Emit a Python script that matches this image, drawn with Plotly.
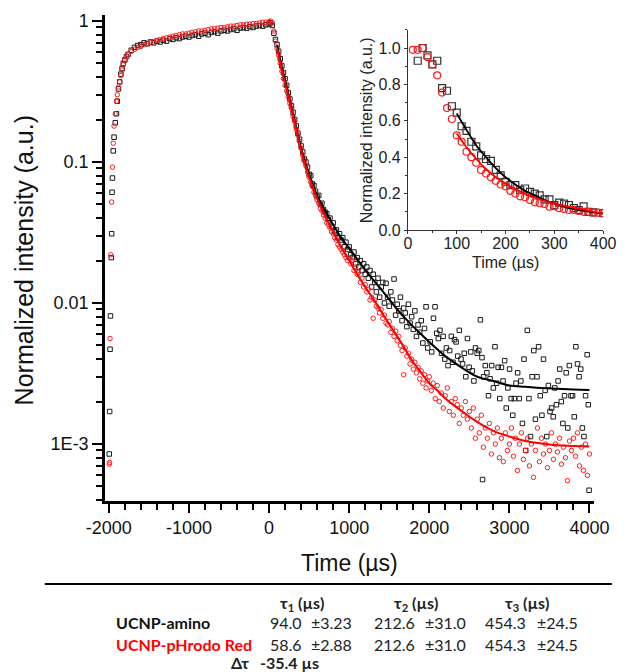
import plotly.graph_objects as go

# ---------------- main panel data (time in µs, normalized intensity) ----------------
amino_rise_t = [-1995, -1990, -1985, -1980, -1970, -1965, -1960, -1955, -1945, -1935,
                -1920, -1905, -1895, -1880, -1865, -1850, -1835, -1820, -1800, -1780]
amino_rise_v = [0.00085, 0.0017, 0.0047, 0.0081, 0.021, 0.031, 0.061, 0.077, 0.12, 0.15,
                0.19, 0.22, 0.27, 0.33, 0.37, 0.42, 0.46, 0.50, 0.53, 0.56]

red_rise_t = [-1995, -1990, -1985, -1975, -1965, -1955, -1945, -1935, -1920, -1905,
              -1895, -1880, -1865, -1850, -1835, -1820, -1800, -1780]
red_rise_v = [0.00072, 0.00074, 0.0056, 0.022, 0.052, 0.092, 0.136, 0.18, 0.22, 0.27,
              0.30, 0.34, 0.37, 0.41, 0.45, 0.49, 0.53, 0.56]

plateau_t = [-1760, -1720, -1680, -1640, -1600, -1560, -1520, -1480, -1440, -1400,
             -1360, -1320, -1280, -1240, -1200, -1160, -1120, -1080, -1040, -1000,
             -960, -920, -880, -840, -800, -760, -720, -680, -640, -600,
             -560, -520, -480, -440, -400, -360, -320, -280, -240, -200,
             -160, -120, -80, -40, 0, 20]
amino_plateau_v = [0.58, 0.62, 0.65, 0.67, 0.68, 0.70, 0.69, 0.71, 0.70, 0.72,
                   0.71, 0.73, 0.72, 0.75, 0.74, 0.76, 0.75, 0.77, 0.78, 0.77,
                   0.79, 0.80, 0.78, 0.81, 0.82, 0.80, 0.83, 0.84, 0.82, 0.85,
                   0.86, 0.85, 0.87, 0.88, 0.86, 0.89, 0.90, 0.89, 0.91, 0.90,
                   0.92, 0.93, 0.92, 0.94, 0.95, 0.97]
red_plateau_v = [0.58, 0.61, 0.63, 0.65, 0.66, 0.68, 0.69, 0.70, 0.71, 0.73,
                 0.74, 0.75, 0.76, 0.77, 0.78, 0.79, 0.80, 0.81, 0.81, 0.82,
                 0.83, 0.84, 0.85, 0.85, 0.86, 0.87, 0.88, 0.88, 0.89, 0.90,
                 0.90, 0.91, 0.92, 0.92, 0.93, 0.94, 0.94, 0.95, 0.95, 0.96,
                 0.96, 0.97, 0.98, 0.98, 0.99, 1.00]

decay_t = [40, 60, 80, 100, 120, 140, 160, 180, 200, 220,
           240, 260, 280, 300, 320, 340, 360, 380, 400, 420,
           440, 460, 480, 500, 520, 540, 560, 580, 600, 620,
           640, 660, 680, 700, 720, 740, 760, 780, 800, 820,
           840, 860, 880, 900, 920, 940, 960, 980]
amino_decay_v = [0.93, 0.82, 0.74, 0.68, 0.61, 0.54, 0.48, 0.43, 0.39, 0.35,
                 0.31, 0.28, 0.25, 0.225, 0.20, 0.18, 0.16, 0.145, 0.13, 0.118,
                 0.105, 0.10, 0.092, 0.082, 0.080, 0.070, 0.068, 0.062, 0.057, 0.058,
                 0.050, 0.051, 0.046, 0.044, 0.043, 0.039, 0.040, 0.035, 0.037, 0.032,
                 0.033, 0.029, 0.031, 0.028, 0.029, 0.025, 0.027, 0.024]
red_decay_v = [0.97, 0.85, 0.72, 0.64, 0.57, 0.50, 0.44, 0.39, 0.35, 0.32,
               0.29, 0.26, 0.24, 0.21, 0.195, 0.17, 0.155, 0.14, 0.125, 0.112,
               0.102, 0.094, 0.085, 0.078, 0.072, 0.067, 0.061, 0.058, 0.054, 0.051,
               0.047, 0.045, 0.042, 0.040, 0.037, 0.036, 0.034, 0.032, 0.031, 0.029,
               0.028, 0.026, 0.025, 0.024, 0.023, 0.022, 0.021, 0.020]

mid_t = [1000, 1020, 1040, 1060, 1080, 1100, 1120, 1140, 1160, 1180,
         1200, 1220, 1240, 1260, 1280, 1300, 1320, 1340, 1360, 1380,
         1400, 1420, 1440, 1460, 1480, 1500, 1520, 1540, 1560, 1580,
         1600, 1620, 1640, 1660, 1680, 1700, 1720, 1740, 1760, 1780,
         1800, 1820, 1840, 1860, 1880, 1900, 1920, 1940, 1960, 1980]
amino_mid_v = [0.025, 0.022, 0.021, 0.023, 0.019, 0.021, 0.018, 0.020, 0.017, 0.019,
               0.016, 0.018, 0.015, 0.017, 0.013, 0.016, 0.014, 0.012, 0.015, 0.011,
               0.013, 0.014, 0.010, 0.0138, 0.011, 0.0095, 0.012, 0.0105, 0.0148, 0.0082,
               0.0098, 0.0088, 0.0110, 0.0075, 0.0092, 0.0085, 0.0068, 0.0098, 0.0072, 0.0080,
               0.0065, 0.0088, 0.0058, 0.0070, 0.0062, 0.0075, 0.0052, 0.0066, 0.0094, 0.0048]
red_mid_v = [0.021, 0.019, 0.020, 0.017, 0.018, 0.016, 0.0165, 0.014, 0.015, 0.013,
             0.0135, 0.012, 0.0125, 0.0105, 0.011, 0.0078, 0.0105, 0.0095, 0.0092, 0.0085,
             0.0090, 0.0078, 0.0082, 0.0072, 0.0070, 0.0074, 0.0062, 0.0066, 0.0058, 0.0063,
             0.0054, 0.0058, 0.0050, 0.0046, 0.0031, 0.0048, 0.0042, 0.0044, 0.0037, 0.0040,
             0.0034, 0.0038, 0.0032, 0.0035, 0.0029, 0.0033, 0.0027, 0.0031, 0.0025, 0.0028]

amino_tail_t = [2012, 2030, 2052, 2072, 2093, 2113, 2133, 2153, 2173, 2194,
                2214, 2234, 2254, 2275, 2295, 2315, 2335, 2355, 2375, 2396,
                2416, 2436, 2456, 2476, 2497, 2517, 2537, 2557, 2577, 2598,
                2618, 2638, 2658, 2665, 2679, 2699, 2719, 2739, 2759, 2779,
                2800, 2820, 2840, 2860, 2880, 2901, 2921, 2941, 2961, 2981,
                3002, 3022, 3042, 3062, 3083, 3103, 3123, 3143, 3163, 3183,
                3204, 3224, 3244, 3264, 3284, 3305, 3325, 3345, 3365, 3385,
                3406, 3426, 3446, 3466, 3487, 3507, 3527, 3547, 3567, 3587,
                3608, 3628, 3648, 3668, 3688, 3709, 3729, 3749, 3769, 3789,
                3810, 3830, 3850, 3870, 3891, 3911, 3931, 3951, 3971, 3985, 3995]
amino_tail_v = [0.0053, 0.0045, 0.0078, 0.0094, 0.0061, 0.0056, 0.0064, 0.0044, 0.0058, 0.0040,
                0.0048, 0.0036, 0.0046, 0.0058, 0.0038, 0.0055, 0.0053, 0.0042, 0.0064, 0.0040,
                0.0037, 0.0044, 0.0030, 0.0056, 0.0035, 0.0045, 0.0033, 0.0028, 0.0048, 0.0044,
                0.0046, 0.0076, 0.0041, 0.00056, 0.0030, 0.0036, 0.0032, 0.0022, 0.0029, 0.0036,
                0.0025, 0.0049, 0.0027, 0.0035, 0.0021, 0.0035, 0.0028, 0.0039, 0.0018, 0.0025,
                0.0034, 0.0021, 0.0016, 0.0021, 0.0027, 0.0032, 0.0021, 0.0028, 0.0014, 0.0040,
                0.0009, 0.0064, 0.0021, 0.00113, 0.0030, 0.0046, 0.0015, 0.0030, 0.0049, 0.0022,
                0.0016, 0.0040, 0.0024, 0.00113, 0.0026, 0.0017, 0.0018, 0.00156, 0.0025, 0.0019,
                0.0028, 0.0034, 0.0020, 0.0014, 0.0022, 0.0032, 0.0013, 0.0036, 0.0022, 0.0022,
                0.00156, 0.0049, 0.0037, 0.0030, 0.0034, 0.0013, 0.00113, 0.0022, 0.0043, 0.0019, 0.00047]

red_tail_t = [2000, 2025, 2050, 2075, 2100, 2125, 2150, 2175, 2200, 2225,
              2250, 2275, 2300, 2325, 2350, 2375, 2400, 2425, 2450, 2475,
              2500, 2525, 2550, 2575, 2600, 2625, 2650, 2675, 2700, 2725,
              2750, 2775, 2800, 2825, 2850, 2875, 2900, 2925, 2950, 2975,
              3000, 3025, 3050, 3075, 3100, 3125, 3150, 3175, 3200, 3225,
              3250, 3275, 3300, 3325, 3350, 3375, 3400, 3425, 3450, 3475,
              3500, 3525, 3550, 3575, 3600, 3625, 3650, 3675, 3700, 3725,
              3750, 3775, 3800, 3825, 3850, 3875, 3900, 3925, 3950, 3975, 4000]
red_tail_v = [0.0030, 0.0024, 0.0027, 0.0021, 0.0026, 0.0020, 0.0023, 0.0018, 0.0022, 0.0025,
              0.0017, 0.0020, 0.0016, 0.0021, 0.0019, 0.0014, 0.0018, 0.0016, 0.0020, 0.0015,
              0.0017, 0.0013, 0.0018, 0.0011, 0.0015, 0.0012, 0.0016, 0.00095, 0.0013, 0.0011,
              0.0014, 0.00085, 0.0012, 0.0010, 0.0013, 0.00080, 0.0011, 0.00075, 0.0012, 0.0009,
              0.0010, 0.0013, 0.00082, 0.0011, 0.00065, 0.0010, 0.0012, 0.00078, 0.0009, 0.0011,
              0.0007, 0.0010, 0.00058, 0.0009, 0.0013, 0.00075, 0.0011, 0.00085, 0.0010, 0.00068,
              0.0009, 0.0012, 0.00078, 0.0010, 0.00088, 0.0011, 0.00072, 0.00095, 0.0008, 0.00055,
              0.00105, 0.0009, 0.0011, 0.00082, 0.0012, 0.0007, 0.00095, 0.00065, 0.0010, 0.0006, 0.00085]

fit_t = [100, 150, 200, 250, 300, 350, 400, 450, 500, 600,
         700, 800, 900, 1000, 1100, 1200, 1300, 1400, 1500, 1600,
         1700, 1800, 1900, 2000, 2100, 2200, 2400, 2600, 2800, 3000,
         3200, 3400, 3600, 3800, 4000]
amino_fit_v = [0.68, 0.50, 0.38, 0.29, 0.22, 0.165, 0.125, 0.100, 0.082, 0.058,
               0.045, 0.036, 0.029, 0.0245, 0.0205, 0.0172, 0.0146, 0.0125, 0.0106, 0.0090,
               0.0078, 0.0068, 0.0060, 0.0053, 0.0047, 0.0042, 0.0035, 0.0030, 0.0028, 0.0026,
               0.00255, 0.0025, 0.00247, 0.00244, 0.00242]
red_fit_v = [0.64, 0.47, 0.36, 0.28, 0.21, 0.16, 0.12, 0.096, 0.078, 0.055,
             0.041, 0.032, 0.025, 0.020, 0.016, 0.0130, 0.0107, 0.0087, 0.0071, 0.0058,
             0.0047, 0.0038, 0.0032, 0.0027, 0.0024, 0.0021, 0.00172, 0.00143, 0.00124, 0.00113,
             0.00105, 0.00101, 0.00098, 0.00097, 0.00096]

# ---------------- inset data (linear scale, 0-400 µs) ----------------
inset_amino_t = [20, 30, 40, 50, 60, 70, 80, 90, 100, 110, 120, 130, 140, 150, 160, 170, 180, 190,
                 200, 210, 220, 230, 240, 250, 260, 270, 280, 290, 300, 310, 320, 330, 340, 350,
                 360, 370, 380, 400]
inset_amino_v = [0.93, 1.0, 0.96, 0.91, 0.93, 0.78, 0.765, 0.68, 0.645, 0.57, 0.545, 0.485, 0.46,
                 0.41, 0.39, 0.38, 0.33, 0.30, 0.265, 0.247, 0.247, 0.22, 0.228, 0.21, 0.20, 0.19,
                 0.168, 0.168, 0.137, 0.15, 0.145, 0.137, 0.12, 0.11, 0.13, 0.10, 0.097, 0.093]
inset_red_t = [10, 20, 30, 40, 50, 60, 70, 80, 90, 100, 110, 120, 130, 140, 150, 160, 170, 180,
               190, 200, 210, 220, 230, 240, 250, 260, 270, 280, 290, 300, 310, 320, 330, 340,
               350, 360, 370, 380, 390, 400]
inset_red_v = [0.99, 0.99, 1.0, 0.95, 0.91, 0.85, 0.755, 0.67, 0.61, 0.52, 0.485, 0.43, 0.40,
               0.37, 0.33, 0.31, 0.29, 0.27, 0.25, 0.24, 0.215, 0.20, 0.185, 0.18, 0.165, 0.152,
               0.147, 0.143, 0.128, 0.13, 0.12, 0.116, 0.11, 0.11, 0.105, 0.10, 0.10, 0.095,
               0.095, 0.092]
inset_fit_t = [100, 120, 140, 160, 180, 200, 220, 240, 260, 280, 300, 320, 340, 360, 380, 400]
inset_amino_fit = [0.64, 0.55, 0.465, 0.40, 0.34, 0.29, 0.25, 0.215, 0.19, 0.165, 0.145, 0.13,
                   0.115, 0.105, 0.097, 0.09]
inset_red_fit = [0.53, 0.455, 0.39, 0.335, 0.29, 0.255, 0.225, 0.20, 0.18, 0.16, 0.145, 0.132,
                 0.122, 0.112, 0.10, 0.092]

# ---------------- table ----------------
row_labels = ["UCNP-amino", "UCNP-pHrodo Red"]
row_colors = ["#111111", "#ff0000"]
tau_headers = ["τ<sub>1</sub> (µs)", "τ<sub>2</sub> (µs)", "τ<sub>3</sub> (µs)"]
tau_values = [["94.0", "±3.23", "212.6", "±31.0", "454.3", "±24.5"],
              ["58.6", "±2.88", "212.6", "±31.0", "454.3", "±24.5"]]
delta_label = "Δτ"
delta_value = "-35.4 µs"

main_x_ticks = [-2000, -1000, 0, 1000, 2000, 3000, 4000]
main_x_ticktext = ["-2000", "-1000", "0", "1000", "2000", "3000", "4000"]
main_y_ticks = [0.001, 0.01, 0.1, 1]
main_y_ticktext = ["1E-3", "0.01", "0.1", "1"]
inset_x_ticks = [0, 100, 200, 300, 400]
inset_y_ticks = [0.0, 0.2, 0.4, 0.6, 0.8, 1.0]
inset_y_ticktext = ["0.0", "0.2", "0.4", "0.6", "0.8", "1.0"]

# ---------------- geometry helpers ----------------
W, H = 632, 672
ML, MR, MT, MB = 105, 10, 15, 171
PW, PH = W - ML - MR, H - MT - MB


def px(xp):
    return (xp - ML) / PW


def py(yp):
    return (MT + PH - yp) / PH


BLACK = "#1a1a1a"
RED = "#ff1a1a"
AX_FONT = "Liberation Sans, Arial, sans-serif"
TAB_FONT = "Lato, Open Sans, sans-serif"

fig = go.Figure()

amino_t = amino_rise_t + plateau_t + decay_t + mid_t + amino_tail_t
amino_v = amino_rise_v + amino_plateau_v + amino_decay_v + amino_mid_v + amino_tail_v
red_t = red_rise_t + plateau_t + decay_t + mid_t + red_tail_t
red_v = red_rise_v + red_plateau_v + red_decay_v + red_mid_v + red_tail_v

fig.add_trace(go.Scatter(x=amino_t, y=amino_v, mode="markers", xaxis="x", yaxis="y",
                         marker=dict(symbol="square-open", size=4.5, color=BLACK,
                                     line=dict(width=1, color=BLACK))))
fig.add_trace(go.Scatter(x=red_t, y=red_v, mode="markers", xaxis="x", yaxis="y",
                         marker=dict(symbol="circle-open", size=4.5, color=RED,
                                     line=dict(width=1, color=RED))))
fig.add_trace(go.Scatter(x=fit_t, y=amino_fit_v, mode="lines", xaxis="x", yaxis="y",
                         line=dict(color="black", width=2, shape="spline")))
fig.add_trace(go.Scatter(x=fit_t, y=red_fit_v, mode="lines", xaxis="x", yaxis="y",
                         line=dict(color="#ff0000", width=2, shape="spline")))

# inset
fig.add_trace(go.Scatter(x=inset_amino_t, y=inset_amino_v, mode="markers", xaxis="x2", yaxis="y2",
                         marker=dict(symbol="square-open", size=7, color="#333333",
                                     line=dict(width=1.2, color="#333333"))))
fig.add_trace(go.Scatter(x=inset_red_t, y=inset_red_v, mode="markers", xaxis="x2", yaxis="y2",
                         marker=dict(symbol="circle-open", size=7, color=RED,
                                     line=dict(width=1.2, color=RED))))
fig.add_trace(go.Scatter(x=inset_fit_t, y=inset_amino_fit, mode="lines", xaxis="x2", yaxis="y2",
                         line=dict(color="black", width=1.8, shape="spline")))
fig.add_trace(go.Scatter(x=inset_fit_t, y=inset_red_fit, mode="lines", xaxis="x2", yaxis="y2",
                         line=dict(color="#ff0000", width=1.8, shape="spline")))

minor_log = [m * 10.0 ** e for e in range(-4, 1) for m in range(2, 10)]

fig.update_layout(
    width=W, height=H,
    margin=dict(l=ML, r=MR, t=MT, b=MB, pad=0),
    paper_bgcolor="white", plot_bgcolor="rgba(0,0,0,0)",
    showlegend=False,
    xaxis=dict(domain=[0, (609 - ML) / PW], range=[-2048, 4061],
               tickmode="array", tickvals=main_x_ticks, ticktext=main_x_ticktext,
               ticks="outside", ticklen=9, tickwidth=2, tickcolor="black",
               showline=True, linewidth=2.5, linecolor="black",
               showgrid=False, zeroline=False,
               tickfont=dict(family=AX_FONT, size=18, color="#111"),
               minor=dict(tickmode="linear", tick0=0, dtick=200, ticks="outside",
                          ticklen=6, tickwidth=1.5, tickcolor="black", showgrid=False)),
    yaxis=dict(type="log", range=[-3.404, 0.0426], anchor="x",
               tickmode="array", tickvals=main_y_ticks, ticktext=main_y_ticktext,
               ticks="outside", ticklen=10, tickwidth=2, tickcolor="black",
               showline=True, linewidth=2.5, linecolor="black",
               showgrid=False, zeroline=False,
               tickfont=dict(family=AX_FONT, size=18, color="#111"),
               minor=dict(tickmode="array", tickvals=minor_log, ticks="outside",
                          ticklen=6, tickwidth=1.5, tickcolor="black", showgrid=False)),
    xaxis2=dict(domain=[px(417), px(618)], anchor="y2", range=[0, 400],
                tickmode="array", tickvals=inset_x_ticks,
                ticks="outside", ticklen=3, tickwidth=1, tickcolor="#333",
                ticklabelstandoff=-4,
                showline=True, linewidth=1, linecolor="#333",
                showgrid=False, zeroline=False,
                tickfont=dict(family=AX_FONT, size=16, color="#222"),
                minor=dict(tickmode="linear", tick0=0, dtick=50, ticks="outside",
                           ticklen=2, tickwidth=1, tickcolor="#333", showgrid=False)),
    yaxis2=dict(domain=[py(230), py(29.8)], anchor="x2", range=[0, 1.1],
                tickmode="array", tickvals=inset_y_ticks, ticktext=inset_y_ticktext,
                ticks="outside", ticklen=3, tickwidth=1, tickcolor="#333",
                showline=True, linewidth=1, linecolor="#333",
                showgrid=False, zeroline=False,
                tickfont=dict(family=AX_FONT, size=16, color="#222"),
                minor=dict(tickmode="linear", tick0=0, dtick=0.1, ticks="outside",
                           ticklen=2, tickwidth=1, tickcolor="#333", showgrid=False)),
)

ann = []


def add_text(text, xp, yp, size, family, color="#111", xanchor="center", angle=0):
    ann.append(dict(text=text, x=px(xp), y=py(yp), xref="paper", yref="paper",
                    xanchor=xanchor, yanchor="middle", showarrow=False, textangle=angle,
                    font=dict(family=family, size=size, color=color)))


# axis titles
add_text("Normalized intensity (a.u.)", 22, 260, 25, AX_FONT, angle=-90)
add_text("Time (µs)", 357, 563, 23, AX_FONT)
add_text("Normalized intensity (a.u.)", 374, 130, 16, AX_FONT, color="#222", angle=-90)
add_text("Time (µs)", 517, 262, 16, AX_FONT, color="#222")

# table
header_x = [308, 425, 540]
for h, xh in zip(tau_headers, header_x):
    add_text("<b>" + h + "</b>", xh, 603, 16, TAB_FONT, color="#222")
row_y = [622, 644]
value_x = [273, 315, 380, 432, 494, 548]
for lab, col, vals, yr in zip(row_labels, row_colors, tau_values, row_y):
    add_text("<b>" + lab + "</b>", 114, yr, 16, TAB_FONT, color=col, xanchor="left")
    for v, xv in zip(vals, value_x):
        add_text(v, xv, yr, 16, TAB_FONT, color="#222", xanchor="left")
add_text("<b>" + delta_label + "</b>", 233, 662, 16, TAB_FONT, color="#222", xanchor="left")
add_text("<b>" + delta_value + "</b>", 263, 662, 16, TAB_FONT, color="#222", xanchor="left")

fig.update_layout(annotations=ann)
fig.add_shape(type="line", xref="paper", yref="paper",
              x0=px(43), x1=px(627), y0=py(584), y1=py(584),
              line=dict(color="black", width=2))

fig.write_html("out.html")
